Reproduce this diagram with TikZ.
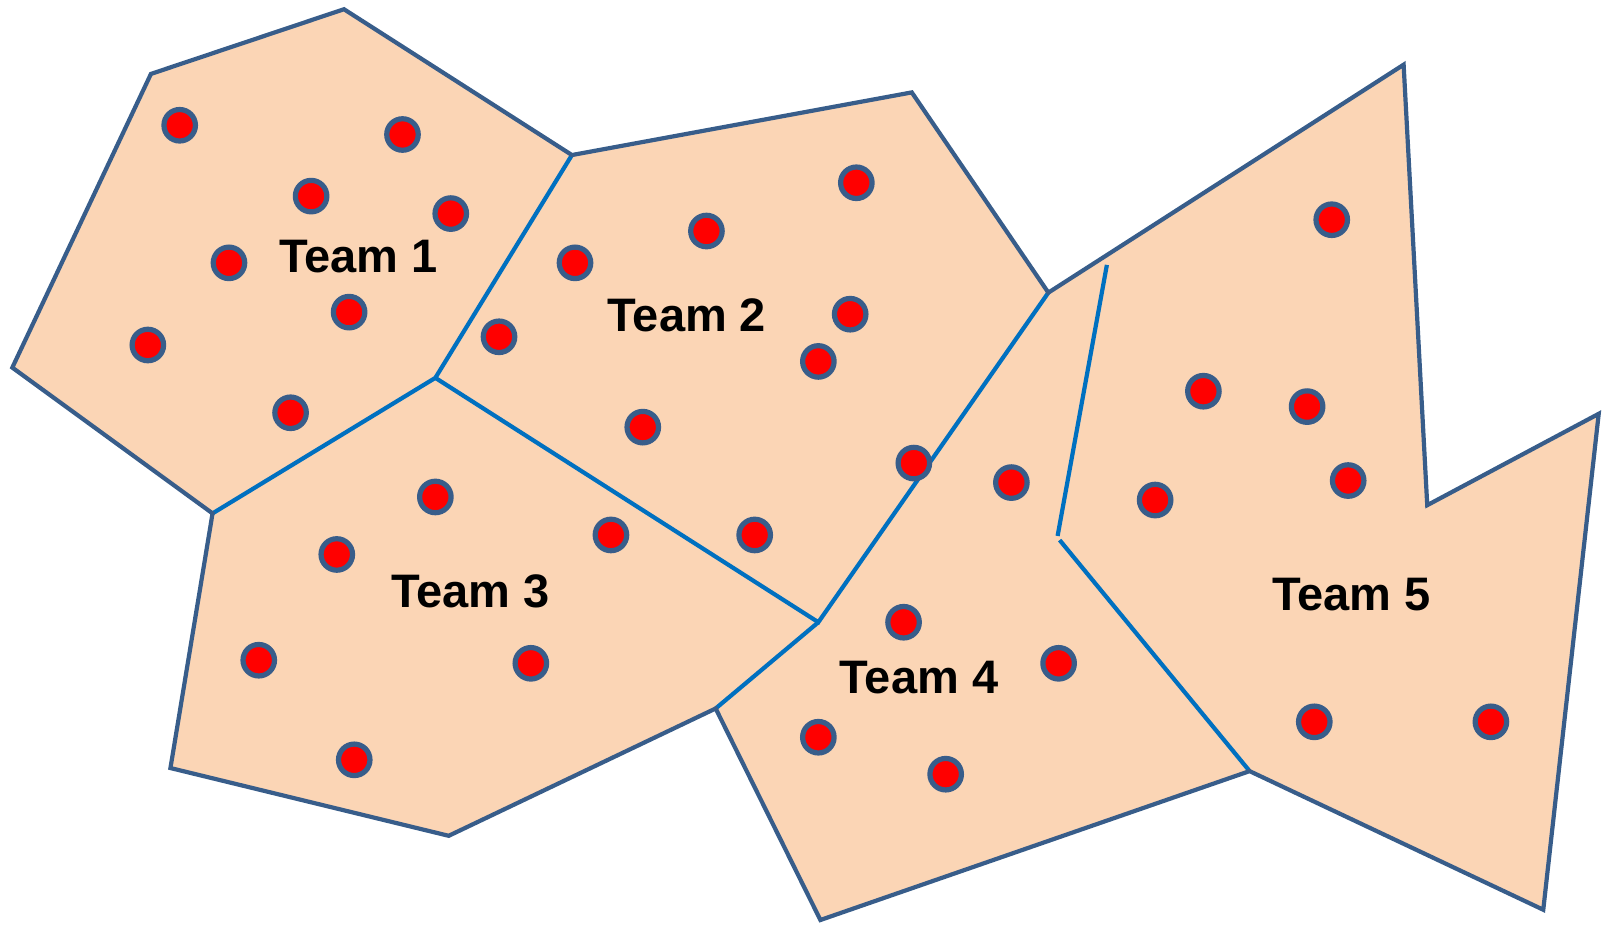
\documentclass[tikz,border=0pt]{standalone}
\usepackage{fontspec}
\setmainfont{Liberation Sans}
\definecolor{peach}{HTML}{FBD5B5}
\definecolor{edgeblue}{HTML}{385D8A}
\definecolor{innerblue}{HTML}{0070C0}
\definecolor{dotred}{HTML}{FF0000}
\begin{document}
\begin{tikzpicture}[x=1.0268pt,y=-1.0268pt,
  outer/.style={draw=edgeblue,line width=4.2pt,line join=miter},
  inner/.style={draw=innerblue,line width=4.2pt},
  dot/.style={circle,draw=edgeblue,fill=dotred,line width=5.2pt,minimum size=31.5pt,inner sep=0pt},
  lbl/.style={font=\fontsize{47}{51}\selectfont\bfseries,text=black,inner sep=0pt}]
\useasboundingbox (0,0) rectangle (1568,900);
% vertices
\coordinate (A) at (12,358);
\coordinate (B) at (147,72);
\coordinate (C) at (335,9);
\coordinate (D) at (557,151);
\coordinate (E) at (888,90);
\coordinate (F) at (1021,285);
\coordinate (G) at (1367,63);
\coordinate (H) at (1390,492);
\coordinate (I) at (1557,403);
\coordinate (J) at (1503,886);
\coordinate (K) at (1217,751);
\coordinate (L) at (799,896);
\coordinate (M) at (697,690);
\coordinate (N) at (437,814);
\coordinate (O) at (166,748);
\coordinate (P) at (207,500);
\coordinate (Q) at (424,368);
\coordinate (R) at (797,606);
\coordinate (S1) at (1078,258);
\coordinate (S2) at (1030,522);
\coordinate (S3) at (1032,526);
\fill[peach] (A)--(B)--(C)--(D)--(E)--(F)--(G)--(H)--(I)--(J)--(K)--(L)--(M)--(N)--(O)--(P)--cycle;
\draw[inner] (D)--(Q)--(P);
\draw[inner] (Q)--(R)--(F);
\draw[inner] (R)--(M);
\draw[inner] (S1)--(S2);
\draw[inner] (S3)--(K);
\draw[outer] (A)--(B)--(C)--(D)--(E)--(F)--(G)--(H)--(I)--(J)--(K)--(L)--(M)--(N)--(O)--(P)--cycle;
\foreach \n/\p in {a1/{(175,122)},a2/{(392,131)},a3/{(303,191)},a4/{(439,208)},a5/{(223,256)},a6/{(340,304)},a7/{(144,336)},a8/{(283,402)},
  b1/{(834,178)},b2/{(688,225)},b3/{(560,256)},b4/{(828,306)},b5/{(486,328)},b6/{(797,352)},b7/{(626,416)},b8/{(890,451)},b9/{(735,521)},
  c1/{(424,484)},c2/{(595,521)},c3/{(328,540)},c4/{(252,643)},c5/{(517,646)},c6/{(345,740)},
  d1/{(985,470)},d2/{(880,606)},d3/{(1031,646)},d4/{(797,718)},d5/{(921,754)},
  e1/{(1297,214)},e2/{(1172,381)},e3/{(1273,396)},e4/{(1313,468)},e5/{(1125,487)},e6/{(1280,703)},e7/{(1452,703)}}
  \node[dot] (\n) at \p {};
\node[lbl] (t1) at (349,250) {Team 1};
\node[lbl] (t2) at (669,307) {Team 2};
\node[lbl] (t3) at (458,576) {Team 3};
\node[lbl] (t4) at (895,660) {Team 4};
\node[lbl] (t5) at (1316,579) {Team 5};
\end{tikzpicture}
\end{document}
